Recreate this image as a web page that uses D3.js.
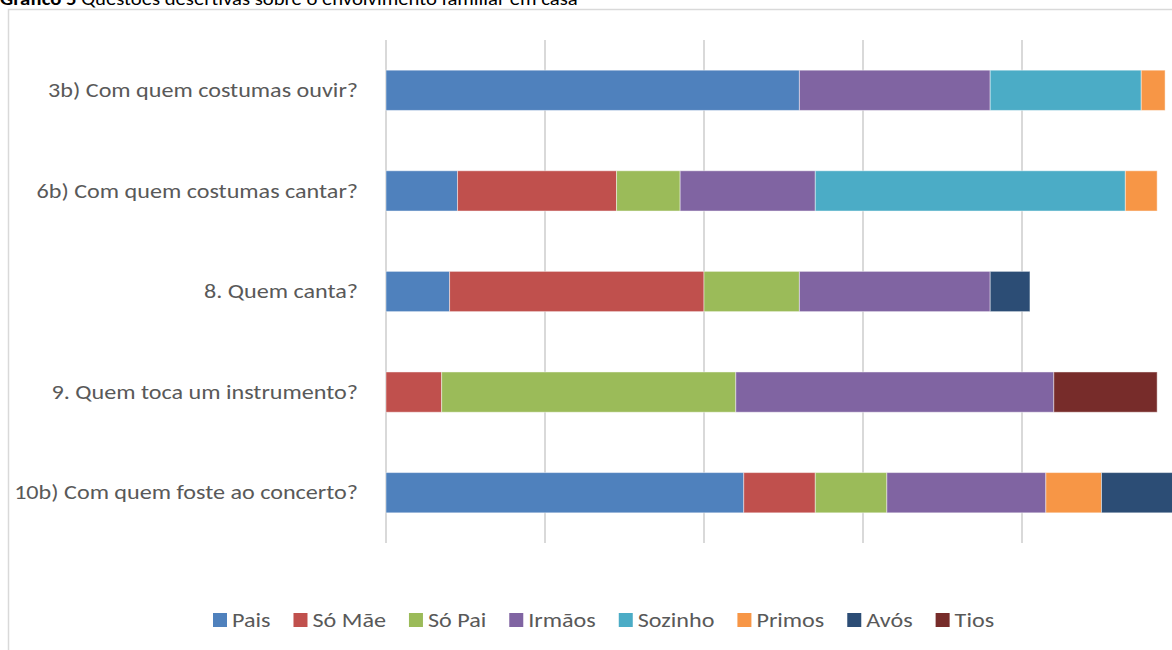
<!DOCTYPE html>
<html>
<head>
<meta charset="utf-8">
<script src="https://cdn.jsdelivr.net/npm/d3@7"></script>
<style>
  body { margin: 0; background: #fff; overflow: hidden; }
  svg { display: block; }
</style>
</head>
<body>
<div id="chart"></div>
<script>
// data
let questions = ["3b) Com quem costumas ouvir?", "6b) Com quem costumas cantar?", "8. Quem canta?",
        "9. Quem toca um instrumento?", "10b) Com quem foste ao concerto?"],
    series = ["Pais", "Só Mãe", "Só Pai", "Irmãos", "Sozinho", "Primos", "Avós", "Tios"],
    colors = ["#4F81BD", "#C0504D", "#9BBB59", "#8064A2", "#4BACC6", "#F79646", "#2C4D75", "#772C2A"];
// one list per series, in question order
let pais    = [52, 9, 8, 0, 45],
    soMae   = [0, 20, 32, 7, 9],
    soPai   = [0, 8, 12, 37, 9],
    irmaos  = [24, 17, 24, 40, 20],
    sozinho = [19, 39, 0, 0, 0],
    primos  = [3, 4, 0, 0, 7],
    avos    = [0, 0, 5, 0, 10],
    tios    = [0, 0, 0, 13, 0];
let gridTicks = [0, 20, 40, 60, 80, 100];

let width = 1172, height = 650,
    font = "Carlito, 'Open Sans', sans-serif",
    stretch = 1.15; // the original text is a bit wider than Carlito

// build table for the stack
let rows = questions.map(function(q, i) {
    return {
        q: q, "Pais": pais[i], "Só Mãe": soMae[i], "Só Pai": soPai[i], "Irmãos": irmaos[i],
        "Sozinho": sozinho[i], "Primos": primos[i], "Avós": avos[i], "Tios": tios[i]
    };
});
let stacked = d3.stack().keys(series)(rows);

let svg = d3.select("#chart").append("svg")
    .attr("width", width)
    .attr("height", height);

// title (cut at the top like the original)
svg.append("g")
    .attr("transform", "translate(0,5) scale(" + stretch + ",1)")
    .append("text")
    .attr("font-family", font)
    .attr("font-size", 18)
    .attr("fill", "#000")
    .html("<tspan font-weight='bold'>Gráfico 5</tspan> Questões desertivas sobre o envolvimento familiar em casa");

// chart frame
svg.append("rect")
    .attr("x", 8.5)
    .attr("y", 9.5)
    .attr("width", 1300)
    .attr("height", 800)
    .attr("fill", "none")
    .attr("stroke", "#d9d9d9")
    .attr("stroke-width", 1.5);

let x = d3.scaleLinear().domain([0, 100]).range([386, 1181]);
let y = d3.scaleBand().domain(questions).range([40, 543]).paddingInner(0.6).paddingOuter(0.3);

// grid
svg.selectAll(".grid")
    .data(gridTicks)
    .enter()
    .append("line")
    .attr("class", "grid")
    .attr("x1", d => x(d))
    .attr("x2", d => x(d))
    .attr("y1", 40)
    .attr("y2", 543)
    .attr("stroke", "#d9d9d9")
    .attr("stroke-width", 2);

// bars
let groups = svg.selectAll(".layer")
    .data(stacked)
    .enter()
    .append("g")
    .attr("class", "layer")
    .attr("fill", (d, i) => colors[i]);
groups.selectAll("rect")
    .data(d => d.filter(s => s[1] > s[0]))
    .enter()
    .append("rect")
    .attr("x", d => x(d[0]))
    .attr("y", d => y(d.data.q))
    .attr("width", d => x(d[1]) - x(d[0]))
    .attr("height", y.bandwidth())
    .attr("stroke", "rgba(255,255,255,0.45)")
    .attr("stroke-width", 1);

// category labels
let yAxis = d3.axisLeft(y).tickSize(0).tickPadding(0);
let ax = svg.append("g")
    .attr("transform", "translate(358,0) scale(" + stretch + ",1)")
    .call(yAxis);
ax.select(".domain").remove();
ax.selectAll("text")
    .attr("font-family", font)
    .attr("font-size", 21)
    .attr("fill", "#595959");

// legend
{
    let lg = svg.append("g").attr("class", "legend");
    let lx = 213, ly = 620;
    series.forEach(function(s, i) {
        lg.append("rect")
            .attr("x", lx)
            .attr("y", ly - 7)
            .attr("width", 14)
            .attr("height", 14)
            .attr("fill", colors[i]);
        let t = lg.append("g")
            .attr("transform", "translate(" + (lx + 19) + "," + ly + ") scale(" + stretch + ",1)")
            .append("text")
            .attr("dy", "0.35em")
            .attr("font-family", font)
            .attr("font-size", 21)
            .attr("fill", "#595959")
            .text(s);
        lx += 19 + t.node().getComputedTextLength() * stretch + 23;
    });
}
</script>
</body>
</html>
